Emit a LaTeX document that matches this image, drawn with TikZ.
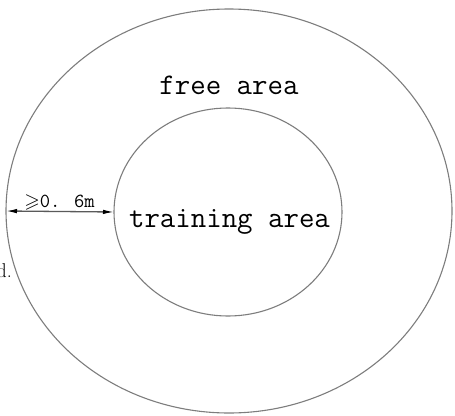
\documentclass[tikz,border=0pt]{standalone}
\usepackage{amssymb}
\usetikzlibrary{shapes.geometric,arrows.meta}
\definecolor{ringgray}{RGB}{125,125,125}
\definecolor{dimgray}{RGB}{90,90,90}
\tikzset{
  ring/.style={draw=ringgray, line width=1.1pt, ellipse, inner sep=0pt, outer sep=0pt},
  areatext/.style={font=\ttfamily\fontsize{30}{34}\selectfont, inner sep=0pt, anchor=base},
  dimtext/.style={font=\ttfamily\fontsize{20}{24}\selectfont, inner sep=0pt, anchor=base},
  dimline/.style={draw=dimgray, line width=1.3pt, {Latex[length=11pt,width=4.5pt,black]}-{Latex[length=11pt,width=4.5pt,black]}}
}
\begin{document}
\begin{tikzpicture}[x=1pt,y=-1pt]
\useasboundingbox (0,0) rectangle (455,415);
\node[ring, minimum width=446pt, minimum height=404pt] (outer) at (229,211) {};
\node[ring, minimum width=228pt, minimum height=208pt] (inner) at (228,212) {};
\node[areatext] (free) at (229,94) {free area};
\node[areatext] (train) at (229.5,227) {training area};
\node[dimtext] (dim) at (59.5,207) {$\geqslant$0. 6m};
\node[font=\fontsize{20}{24}\selectfont, inner sep=0pt, anchor=base east] (frag) at (12,277) {d.};
\draw[dimline] (outer.west) -- (inner.west);
\end{tikzpicture}
\end{document}
